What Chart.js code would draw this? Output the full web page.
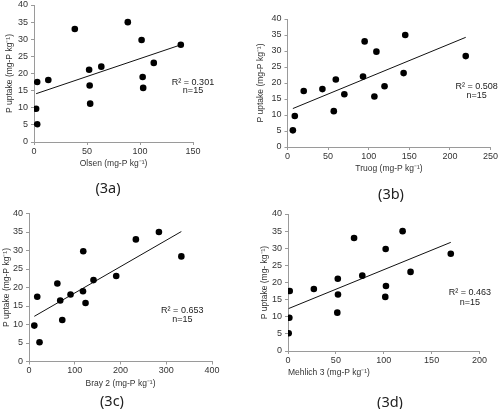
<!DOCTYPE html>
<html>
<head>
<meta charset="utf-8">
<script src="https://cdn.jsdelivr.net/npm/chart.js@4.4.1/dist/chart.umd.min.js"></script>
<style>
  body { margin: 0; background: #fff; width: 500px; height: 409px; position: relative; overflow: hidden; }
  canvas { position: absolute; }
  .tag { position: absolute; font-family: "Noto Sans", sans-serif; font-size: 14.5px; color: #222; transform: translate(-50%, -50%); }
</style>
</head>
<body>
<canvas id="c3a"></canvas>
<canvas id="c3b"></canvas>
<canvas id="c3c"></canvas>
<canvas id="c3d"></canvas>
<div class="tag" style="left:108px;top:187px">(3a)</div>
<div class="tag" style="left:391px;top:193px">(3b)</div>
<div class="tag" style="left:112px;top:400px">(3c)</div>
<div class="tag" style="left:390px;top:401px">(3d)</div>
<script>
// P uptake per soil sample (same samples in every panel)
const uptake = [5.2, 9.7, 11.2, 15.8, 16.5, 17.5, 18.1, 19.0, 21.1, 22.0, 23.1, 28.4, 29.8, 33.0, 35.0];
// extractable P by method, same sample order
const olsen = [3, 2, 53, 103, 52.5, 3, 13.5, 102.5, 52, 63.5, 113, 138.5, 101.5, 38.5, 88.5];
const truog = [6.6, 9, 57, 107, 70, 20, 43, 119.5, 59.5, 93, 143, 219.5, 109.5, 95, 145];
const bray2 = [23, 11.6, 72.7, 123.6, 68.3, 18, 90.8, 118, 62, 141, 190.6, 333, 118.6, 233.6, 284];
const mehlich3 = [0.7, 1.4, 51.5, 101.6, 52.2, 1.8, 27, 102.3, 52, 77.6, 128, 170, 102, 69, 119.7];

const r2Labels = ['R² = 0.301', 'R² = 0.508', 'R² = 0.653', 'R² = 0.463'];
const xTitles = ['Olsen (mg-P kg⁻¹)', 'Truog (mg-P kg⁻¹)', 'Bray 2 (mg-P kg⁻¹)', 'Mehlich 3 (mg-P kg⁻¹)'];
const yTitles = ['P uptake (mg-P kg⁻¹)', 'P uptake (mg-P kg⁻¹)', 'P uptake (mg-P kg⁻¹)', 'P uptake (mg- kg⁻¹)'];
const xMaxes = [150, 250, 400, 200];
const xSteps = [50, 50, 100, 50];
const yMax = 40, yStep = 5;

// draws R² and n next to the fit line
const statsText = {
  id: 'statsText',
  afterDatasetsDraw(chart, args, opts) {
    const { ctx, scales: { x, y } } = chart;
    ctx.save();
    ctx.font = '9px "Liberation Sans", Arial, sans-serif';
    ctx.fillStyle = '#222';
    ctx.textAlign = 'center';
    ctx.textBaseline = 'middle';
    ctx.fillText(opts.r2, x.getPixelForValue(opts.at[0]), y.getPixelForValue(opts.at[1]));
    ctx.fillText('n=' + uptake.length, x.getPixelForValue(opts.at[0]), y.getPixelForValue(opts.at[2]));
    ctx.restore();
  }
};

function fitLine(xs, ys) {
  const n = xs.length;
  const mx = xs.reduce((a, b) => a + b, 0) / n;
  const my = ys.reduce((a, b) => a + b, 0) / n;
  let sxy = 0, sxx = 0;
  for (let i = 0; i < n; i++) {
    sxy += (xs[i] - mx) * (ys[i] - my);
    sxx += (xs[i] - mx) ** 2;
  }
  const b = sxy / sxx, a = my - b * mx;
  const lo = Math.min(...xs), hi = Math.max(...xs);
  return [{ x: lo, y: a + b * lo }, { x: hi, y: a + b * hi }];
}

const titleSize = 8.5;
const titleLH = titleSize * 1.2;
const xAxisH = 27;

function makePanel(id, i, xs, box, area, yTitleX, textAt, xTitleAlign) {
  const cv = document.getElementById(id);
  cv.style.left = box.x + 'px';
  cv.style.top = box.y + 'px';
  cv.width = box.w;
  cv.height = box.h;

  const padLeft = yTitleX - titleLH / 2 - box.x;
  const yAxisW = area.l - box.x - padLeft;
  const pad = {
    left: padLeft,
    top: area.t - box.y,
    right: box.x + box.w - area.r,
    bottom: box.y + box.h - area.b - xAxisH
  };

  const tickFont = { family: '"Liberation Sans", Arial, sans-serif', size: 9 };
  const titleFont = { family: '"Liberation Sans", Arial, sans-serif', size: titleSize, lineHeight: 1.2 };
  const axisGrey = '#9a9a9a';

  new Chart(cv.getContext('2d'), {
    type: 'scatter',
    data: {
      datasets: [
        {
          data: xs.map((v, k) => ({ x: v, y: uptake[k] })),
          backgroundColor: '#000',
          borderWidth: 0,
          pointRadius: 3.3
        },
        {
          type: 'line',
          data: fitLine(xs, uptake),
          borderColor: '#111',
          borderWidth: 1,
          pointRadius: 0,
          fill: false
        }
      ]
    },
    options: {
      responsive: false,
      animation: false,
      layout: { padding: pad },
      plugins: {
        legend: { display: false },
        tooltip: { enabled: false },
        statsText: { r2: r2Labels[i], at: textAt }
      },
      scales: {
        x: {
          type: 'linear',
          min: 0,
          max: xMaxes[i],
          afterFit: s => { s.height = xAxisH; },
          ticks: { stepSize: xSteps[i], maxRotation: 0, autoSkip: false, padding: 1, color: '#333', font: tickFont },
          grid: { drawOnChartArea: false, tickLength: 3, color: axisGrey },
          border: { color: axisGrey },
          title: { display: true, text: xTitles[i], color: '#333', font: titleFont, padding: 0, align: xTitleAlign }
        },
        y: {
          min: 0,
          max: yMax,
          afterFit: s => { s.width = yAxisW; },
          ticks: { stepSize: yStep, padding: 3, color: '#333', font: tickFont },
          grid: { drawOnChartArea: false, tickLength: 3, color: axisGrey },
          border: { color: axisGrey },
          title: { display: true, text: yTitles[i], color: '#333', font: titleFont, padding: 0 }
        }
      }
    },
    plugins: [statsText]
  });
}

makePanel('c3a', 0, olsen,    { x: 0,   y: -10, w: 250, h: 210 }, { l: 34,  t: 5,     r: 193,   b: 142 },   10,  [150, 17.4, 14.9], 'center');
makePanel('c3b', 1, truog,    { x: 250, y: -10, w: 260, h: 210 }, { l: 287.5, t: 19,  r: 490.5, b: 147 },   261, [233, 18.8, 16.0], 'center');
makePanel('c3c', 2, bray2,    { x: 0,   y: 195, w: 250, h: 214 }, { l: 29,  t: 213.5, r: 212,   b: 361.5 }, 7,   [335, 13.9, 11.4], 'center');
makePanel('c3d', 3, mehlich3, { x: 250, y: 195, w: 260, h: 214 }, { l: 288, t: 214,   r: 479.5, b: 351 },   265, [190, 17.0, 14.3], 'start');
</script>
</body>
</html>
